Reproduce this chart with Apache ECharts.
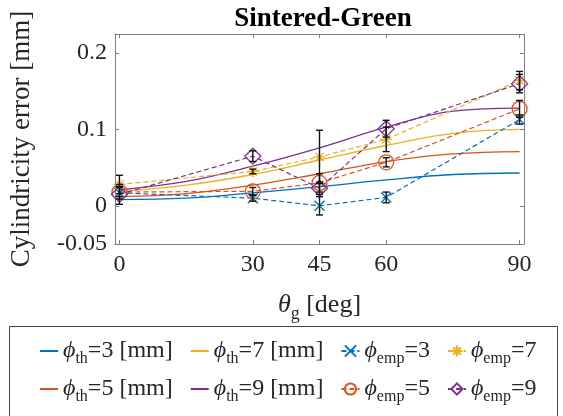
<!DOCTYPE html>
<html>
<head>
<meta charset="utf-8">
<script src="https://cdn.jsdelivr.net/npm/echarts@6/dist/echarts.min.js"></script>
<style>
  html, body { margin: 0; padding: 0; background: #fff; }
  #chart { width: 563px; height: 416px; }
</style>
</head>
<body>
<div id="chart"></div>
<script>
// theory curves, read at these angles
const thetaTh = [0, 15, 30, 45, 60, 75, 90];
const th3 = [0.008, 0.010, 0.017, 0.025, 0.034, 0.041, 0.043];
const th5 = [0.012, 0.016, 0.027, 0.042, 0.058, 0.068, 0.071];
const th7 = [0.019, 0.027, 0.041, 0.060, 0.079, 0.095, 0.100];
const th9 = [0.021, 0.032, 0.052, 0.076, 0.103, 0.124, 0.128];

// measured points + error half-widths
const thetaEmp = [0, 30, 45, 60, 90];
const emp3 = [0.017, 0.010, 0.000, 0.011, 0.113];
const emp5 = [0.018, 0.019, 0.030, 0.057, 0.127];
const emp7 = [0.028, 0.045, 0.064, 0.087, 0.164];
const emp9 = [0.015, 0.065, 0.023, 0.101, 0.160];
const err3 = [0.008, 0.004, 0.012, 0.007, 0.006];
const err5 = [0.006, 0.005, 0.012, 0.006, 0.011];
const err7 = [0.012, 0.003, 0.035, 0.016, 0.012];
const err9 = [0.013, 0.007, 0.008, 0.011, 0.012];

const xTicks = [0, 30, 45, 60, 90];
const yTicks = [-0.05, 0, 0.1, 0.2];

const colors = ['#0072BD', '#D95319', '#EDB120', '#7E2F8E'];
const serif = '"Liberation Serif", "DejaVu Serif", serif';
const ink = '#262626';
const boxColor = '#808080';

const pairs = (xs, ys) => xs.map((x, i) => [x, ys[i]]);

const crossPath = 'path://M0,0L10,10M10,0L0,10';
const starPath = 'path://M5,0L5,10M0,5L10,5M1.6,1.6L8.4,8.4M8.4,1.6L1.6,8.4';

const legendLabels = {
  th3: '{i|ϕ}{s|th}{t|=3 [mm]}',
  th5: '{i|ϕ}{s|th}{t|=5 [mm]}',
  th7: '{i|ϕ}{s|th}{t|=7 [mm]}',
  th9: '{i|ϕ}{s|th}{t|=9 [mm]}',
  emp3: '{i|ϕ}{s|emp}{t|=3}',
  emp5: '{i|ϕ}{s|emp}{t|=5}',
  emp7: '{i|ϕ}{s|emp}{t|=7}',
  emp9: '{i|ϕ}{s|emp}{t|=9}'
};

const rich = {
  i: { fontFamily: serif, fontStyle: 'italic', fontSize: 24, color: ink },
  t: { fontFamily: serif, fontSize: 24, color: ink },
  s: { fontFamily: serif, fontSize: 16, color: ink, padding: [15, 0, 0, 0] }
};

function thSeries(name, data, color) {
  return {
    name, type: 'line', smooth: 0.4, symbol: 'none',
    data: pairs(thetaTh, data),
    lineStyle: { color, width: 1.3 },
    itemStyle: { color },
    z: 2
  };
}

function empSeries(name, data, color, symbol, size) {
  return {
    name, type: 'line', symbol, symbolSize: size,
    data: pairs(thetaEmp, data),
    lineStyle: { color, width: 1.2, type: [5, 3] },
    itemStyle: { color: 'rgba(0,0,0,0)', borderColor: color, borderWidth: 1.3 },
    z: 3
  };
}

const errData = [];
[[emp3, err3], [emp5, err5], [emp7, err7], [emp9, err9]].forEach(([v, e]) => {
  thetaEmp.forEach((x, i) => errData.push([x, v[i] - e[i], v[i] + e[i]]));
});

const chart = echarts.init(document.getElementById('chart'));

const axisLine = { show: true, onZero: false, lineStyle: { color: boxColor, width: 1 } };
const tick = vals => ({ inside: true, length: 4, customValues: vals, lineStyle: { color: boxColor } });
const lineOnly = n => ({ name: n, itemStyle: { opacity: 0 } });

chart.setOption({
  animation: false,
  title: {
    text: 'Sintered-Green', left: 318, top: 1, textAlign: 'center',
    textStyle: { fontFamily: serif, fontWeight: 'bold', fontSize: 27, color: '#000' }
  },
  grid: { left: 112, top: 34, width: 412, height: 210 },
  xAxis: [{
    type: 'value', min: -1, max: 91,
    axisLine, splitLine: { show: false }, axisTick: tick(xTicks),
    axisLabel: { customValues: xTicks, fontFamily: serif, fontSize: 24, color: ink, margin: 9 },
    name: '{i|θ}{s|g}{t| [deg]}', nameLocation: 'middle', nameGap: 44,
    nameTextStyle: { rich: {
      i: { fontFamily: serif, fontStyle: 'italic', fontSize: 26, color: ink },
      t: { fontFamily: serif, fontSize: 26, color: ink },
      s: { fontFamily: serif, fontSize: 18, color: ink, padding: [17, 0, 0, 0] }
    } }
  }, {
    type: 'value', position: 'top', min: -1, max: 91,
    axisLine, splitLine: { show: false }, axisTick: tick(xTicks),
    axisLabel: { show: false }
  }],
  yAxis: [{
    type: 'value', min: -0.05, max: 0.225,
    axisLine, splitLine: { show: false }, axisTick: tick(yTicks),
    axisLabel: { customValues: yTicks, fontFamily: serif, fontSize: 24, color: ink, margin: 8,
      formatter: v => String(+v.toFixed(2)) },
    name: 'Cylindricity error [mm]', nameLocation: 'middle', nameGap: 80,
    nameTextStyle: { fontFamily: serif, fontSize: 27, color: ink }
  }, {
    type: 'value', position: 'right', min: -0.05, max: 0.225,
    axisLine, splitLine: { show: false }, axisTick: tick(yTicks),
    axisLabel: { show: false }
  }],
  legend: [{
    data: [lineOnly('th3'), lineOnly('th7'), 'emp3', 'emp7'],
    left: 34, top: 334, itemGap: 17, itemWidth: 18, itemHeight: 14,
    formatter: n => legendLabels[n], textStyle: { rich }
  }, {
    data: [lineOnly('th5'), lineOnly('th9'), 'emp5', 'emp9'],
    left: 34, top: 372, itemGap: 17, itemWidth: 18, itemHeight: 14,
    formatter: n => legendLabels[n], textStyle: { rich }
  }],
  graphic: [{
    type: 'rect', shape: { x: 9.5, y: 326.5, width: 548, height: 110 },
    style: { fill: 'none', stroke: '#444', lineWidth: 1 }, silent: true
  }],
  series: [
    thSeries('th3', th3, colors[0]),
    thSeries('th5', th5, colors[1]),
    thSeries('th7', th7, colors[2]),
    thSeries('th9', th9, colors[3]),
    empSeries('emp3', emp3, colors[0], crossPath, 10),
    empSeries('emp5', emp5, colors[1], 'circle', 15),
    empSeries('emp7', emp7, colors[2], starPath, 12),
    empSeries('emp9', emp9, colors[3], 'diamond', 16),
    {
      type: 'custom', z: 5,
      data: errData,
      renderItem: (params, api) => {
        const x = api.value(0);
        const lo = api.coord([x, api.value(1)]);
        const hi = api.coord([x, api.value(2)]);
        const cap = 3.5;
        const style = { stroke: '#111', lineWidth: 1.4 };
        return {
          type: 'group', children: [
            { type: 'line', shape: { x1: lo[0], y1: lo[1], x2: hi[0], y2: hi[1] }, style },
            { type: 'line', shape: { x1: lo[0] - cap, y1: lo[1], x2: lo[0] + cap, y2: lo[1] }, style },
            { type: 'line', shape: { x1: hi[0] - cap, y1: hi[1], x2: hi[0] + cap, y2: hi[1] }, style }
          ]
        };
      }
    }
  ]
});
</script>
</body>
</html>
